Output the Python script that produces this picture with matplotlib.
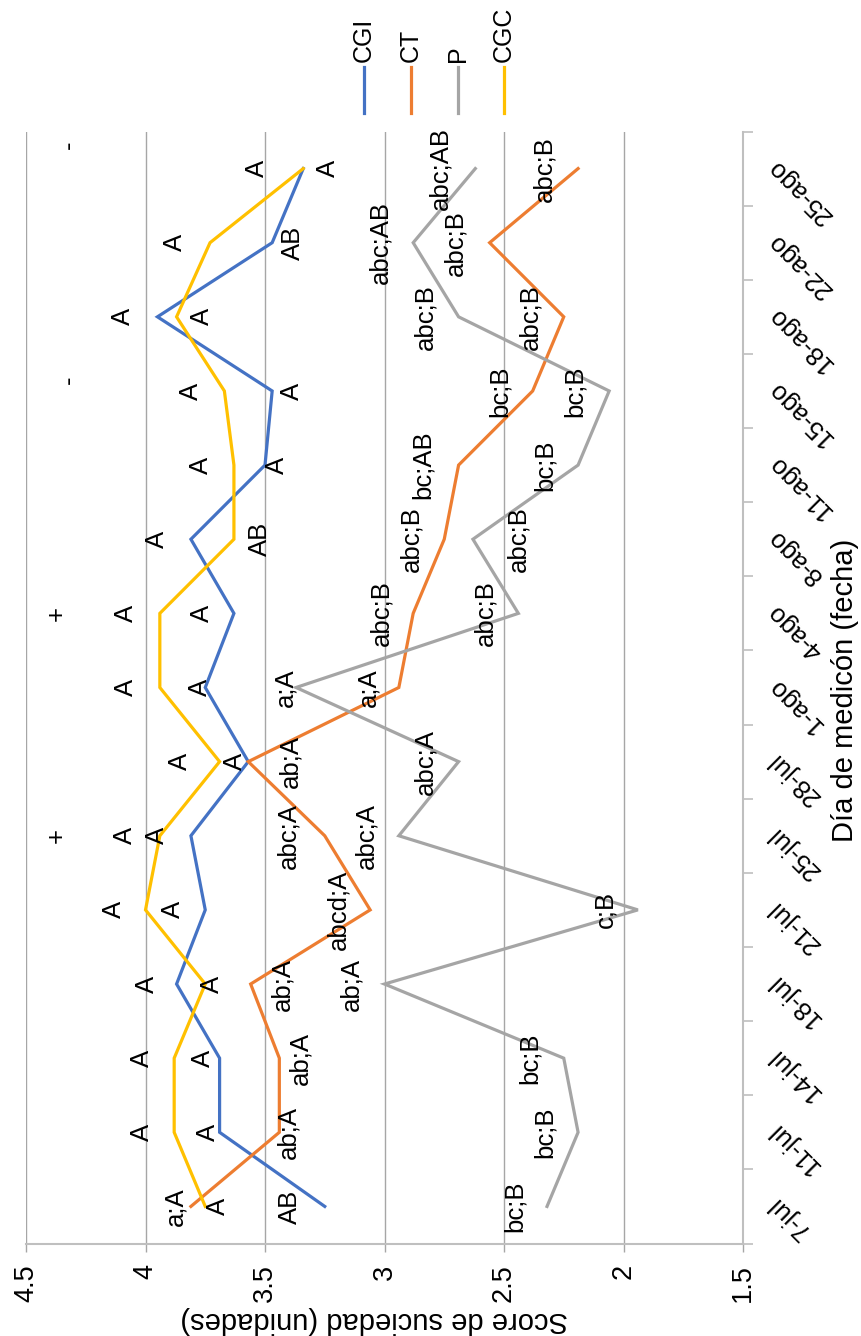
import matplotlib.pyplot as plt
import matplotlib.transforms as mtransforms
import numpy as np

plt.rcParams['font.family'] = ['Liberation Sans', 'DejaVu Sans']

# fechas de medición (eje de categorías)
fechas = ['7-jul', '11-jul', '14-jul', '18-jul', '21-jul', '25-jul', '28-jul',
          '1-ago', '4-ago', '8-ago', '11-ago', '15-ago', '18-ago', '22-ago', '25-ago']

# score medio por tratamiento
cgi = [3.25, 3.69, 3.69, 3.87, 3.75, 3.81, 3.57, 3.75, 3.63, 3.81, 3.50, 3.47, 3.95, 3.47, 3.34]
ct = [3.81, 3.44, 3.44, 3.56, 3.06, 3.25, 3.57, 2.94, 2.88, 2.75, 2.69, 2.38, 2.25, 2.56, 2.19]
p = [2.32, 2.19, 2.25, 3.00, 1.94, 2.94, 2.69, 3.37, 2.44, 2.63, 2.19, 2.06, 2.69, 2.88, 2.62]
cgc = [3.75, 3.88, 3.88, 3.75, 4.00, 3.94, 3.69, 3.94, 3.94, 3.63, 3.63, 3.67, 3.87, 3.73, 3.34]

# letras de comparación de medias
letras_cgi = ['AB', 'A', 'A', 'A', 'A', 'A', 'A', 'A', 'A', 'A', 'A', 'A', 'A', 'AB', 'A']
letras_ct = ['a;A', 'ab;A', 'ab;A', 'ab;A', 'abcd;A', 'abc;A', 'ab;A', 'a;A', 'abc;B',
             'abc;B', 'bc;AB', 'bc;B', 'abc;B', 'abc;B', 'abc;B']
letras_p = ['bc;B', 'bc;B', 'bc;B', 'ab;A', 'c;B', 'abc;A', 'abc;A', 'a;A', 'abc;B',
            'abc;B', 'bc;B', 'bc;B', 'abc;B', 'abc;AB', 'abc;AB']
letras_cgc = ['A', 'A', 'A', 'A', 'A', 'A', 'A', 'A', 'A', 'AB', 'A', 'A', 'A', 'A', 'A']

# significancia entre tratamientos por fecha
signos = ['+', '+', '-', '-']
signos_idx = [5, 8, 11, 14]

# posición (en unidades de score) de cada etiqueta de letras
pos_cgi = [3.395, 3.737, 3.76, 3.995, 3.884, 3.953, 3.626, 3.772, 3.765, 3.953, 3.451, 3.388, 4.093, 3.382, 3.235]
pos_ct = [3.877, 3.403, 3.354, 3.426, 3.193, 3.403, 3.395, 3.068, 3.012, 2.886, 2.838, 2.517, 2.391, 2.705, 2.333]
pos_p = [2.454, 2.328, 2.391, 3.137, 2.077, 3.074, 2.831, 3.416, 2.579, 2.44, 2.328, 2.203, 2.831, 3.019, 2.768]
pos_cgc = [3.695, 4.015, 4.015, 3.72, 4.13, 4.085, 3.855, 4.08, 4.08, 3.52, 3.77, 3.81, 3.765, 3.875, 3.535]
pos_signos = [4.37, 4.37, 4.32, 4.32]
dy_signos = [0.0, 0.0, 0.15, 0.32]

series = [
    ('CGI', cgi, letras_cgi, pos_cgi, '#4472c4'),
    ('CT', ct, letras_ct, pos_ct, '#ed7d31'),
    ('P', p, letras_p, pos_p, '#a5a5a5'),
    ('CGC', cgc, letras_cgc, pos_cgc, '#ffc000'),
]

W, H = 861, 1336
fig = plt.figure(figsize=(W / 100, H / 100), dpi=100)
ax = fig.add_axes([26 / W, (H - 1243.5) / H, 717 / W, 1112 / H])

idx = np.arange(len(fechas))
for nombre, vals, letras, pos, color in series:
    ax.plot(vals, idx, color=color, lw=2.3, solid_joinstyle='miter', zorder=3)
    for i, (txt, xv) in enumerate(zip(letras, pos)):
        ax.text(xv, i, txt, rotation=90, ha='center', va='center',
                fontsize=18.5, color='black', zorder=4)

for s, i, xv, dy in zip(signos, signos_idx, pos_signos, dy_signos):
    ax.text(xv, i + dy, s, rotation=90, ha='center', va='center', fontsize=18.5)

ax.set_xlim(4.5, 1.5)
ax.set_ylim(-0.5, len(fechas) - 0.5)

gris = '#a6a6a6'
ax.set_xticks(np.arange(1.5, 4.51, 0.5))
ax.set_xticklabels(['1.5', '2', '2.5', '3', '3.5', '4', '4.5'], rotation=90, fontsize=19.5)
ax.tick_params(axis='x', direction='out', length=6, width=1, color=gris, pad=9)
ax.set_yticks(np.arange(-0.5, len(fechas), 1))
ax.tick_params(axis='y', left=False, right=True, labelleft=False, direction='out',
               length=7, width=1.2, color='#bfbfbf')
ax.grid(axis='x', color=gris, lw=1)
ax.set_axisbelow(True)
for lado in ['top', 'left']:
    ax.spines[lado].set_visible(False)
ax.spines['bottom'].set_color('#bfbfbf')
ax.spines['bottom'].set_linewidth(1.5)
ax.spines['right'].set_color('#bfbfbf')
ax.spines['right'].set_linewidth(1.5)

# etiquetas de fecha inclinadas a la derecha del eje
trans = mtransforms.blended_transform_factory(fig.transFigure, ax.transData)
for i, f in enumerate(fechas):
    ax.text(772 / W, i + 0.08, f, transform=trans, rotation=135, rotation_mode='anchor',
            ha='right', va='center', fontsize=18.5)

fig.text(374 / W, 1 - 1320 / H, 'Score de suciedad (unidades)', rotation=180,
         ha='center', va='center', fontsize=21)
fig.text(845 / W, 1 - 690 / H, 'Día de medicón (fecha)', rotation=90,
         ha='center', va='center', fontsize=21)

# leyenda vertical en la parte superior
leg_x = [364, 411, 458, 504]
for (nombre, vals, letras, pos, color), lx in zip(series, leg_x):
    fig.add_artist(plt.Line2D([lx / W, lx / W], [1 - 67 / H, 1 - 113 / H],
                              color=color, lw=2.3, transform=fig.transFigure))
    fig.text(lx / W, 1 - 62 / H, nombre, rotation=90, ha='center', va='bottom',
             fontsize=18)

fig.savefig('out.png', dpi=100)
